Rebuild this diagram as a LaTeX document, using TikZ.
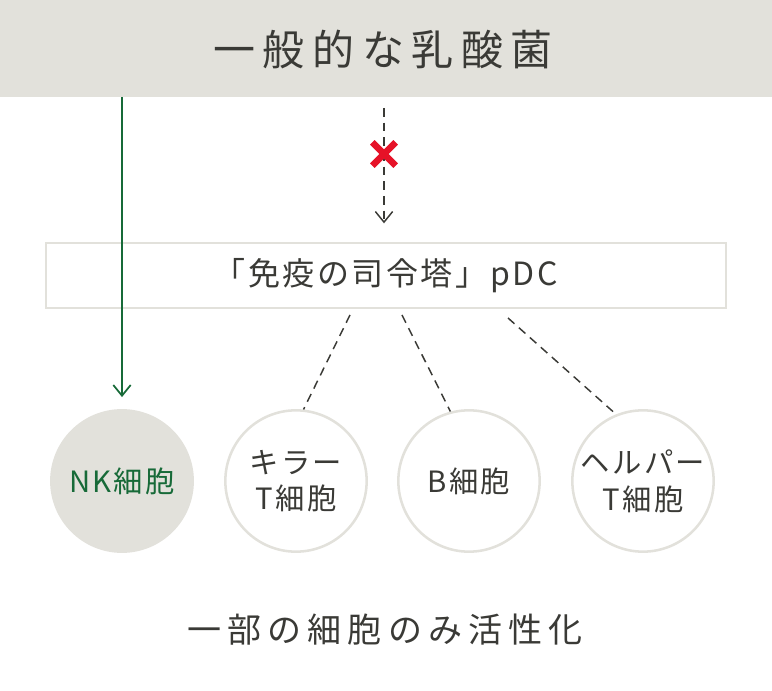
\documentclass[tikz,border=0pt]{standalone}
\usepackage{fontspec}
\usetikzlibrary{arrows.meta}
\newfontfamily\cjk[LetterSpace=8]{Noto Sans CJK JP}
\newfontfamily\cjkwide[LetterSpace=18]{Noto Sans CJK JP}
\definecolor{bandgray}{RGB}{226,225,219}
\definecolor{inkgray}{RGB}{58,58,54}
\definecolor{nkgreen}{RGB}{23,106,56}
\definecolor{crossred}{RGB}{230,18,40}
\tikzset{
  cell/.style={circle, draw=bandgray, line width=1.9pt, minimum size=106pt, inner sep=0pt, align=center, text=inkgray, font=\cjk\fontsize{22}{27.5}\selectfont},
  link/.style={draw=inkgray, line width=1.1pt, dash pattern=on 6.5pt off 4.5pt},
  barb/.style={-{Straight Barb[length=8pt,width=13pt]}}
}
\begin{document}
\begin{tikzpicture}[x=0.75pt,y=0.75pt,yscale=-1]
\useasboundingbox (0,0) rectangle (772,691);

%Shape: Rectangle [band]
\fill [bandgray] (0,0) rectangle (772,97) ;
% Text Node
\node (title) at (383,50) [text=inkgray, font=\cjkwide\fontsize{31.5}{36}\selectfont] {一般的な乳酸菌};

%Shape: Rectangle [pdc]
\node (pdc) at (385.5,275.5) [draw=bandgray, line width=1.5pt, minimum width=510pt, minimum height=48.75pt, inner sep=0pt, text=inkgray, font=\cjk\fontsize{24}{28}\selectfont] {「免疫の司令塔」pDC};

%Shape: Circles [cells]
\node [cell, fill=bandgray, text=nkgreen] (nk) at (122,481) {NK細胞};
\node [cell] (killer) at (296,481) {キラー\\T細胞};
\node [cell] (bcell) at (469,481) {B細胞};
\node [cell] (helper) at (643,481) {ヘルパー\\T細胞};

%Straight Lines [green arrow]
\coordinate (gtop) at (122,97);
\draw [nkgreen, line width=1.3pt, barb, shorten >=9pt] (gtop) -- (nk) ;

%Straight Lines [dashed arrow]
\coordinate (dtop) at (384,108);
\draw [link, barb, shorten >=14pt] (dtop) -- (dtop |- pdc.north) ;
%Shape: Cross
\node (cross) at (384,154) [minimum size=17.5pt, inner sep=0pt, outer sep=0pt] {};
\draw [crossred, line width=4.8pt] (cross.north west) -- (cross.south east) (cross.north east) -- (cross.south west) ;

%Straight Lines [dashed links]
\coordinate (p1) at (350,315);
\coordinate (p2) at (402,315);
\coordinate (p3) at (508,318);
\draw [link] (p1) -- (killer.84) ;
\draw [link] (p2) -- (bcell.105) ;
\draw [link] (p3) -- (helper.112) ;

% Text Node
\node (summary) at (385,630) [text=inkgray, font=\cjkwide\fontsize{25.5}{30}\selectfont] {一部の細胞のみ活性化};

\end{tikzpicture}
\end{document}
